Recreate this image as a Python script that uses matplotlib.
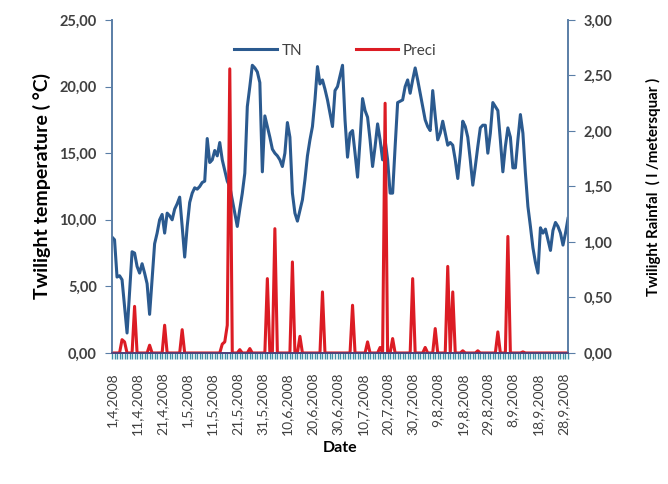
import numpy as np
import pandas as pd
import matplotlib
matplotlib.use("Agg")
from matplotlib import pyplot as plt
from matplotlib.ticker import FuncFormatter, MultipleLocator
#
plt.rcParams['font.family'] = ['Lato', 'DejaVu Sans']
#
dates = pd.date_range('2008-04-01', '2008-09-30', freq='D')
#
# daily twilight temperature (C), 1 Apr - 30 Sep 2008
tn = [8.7, 8.5, 5.7, 5.8, 5.5, 3.5, 1.5, 4.5, 7.6, 7.5,
      6.5, 6.0, 6.7, 6.0, 5.2, 2.9, 5.5, 8.2, 9.0, 10.0,
      10.4, 9.0, 10.5, 10.3, 10.0, 10.8, 11.2, 11.7, 9.5, 7.2,
      9.5, 11.3, 12.0, 12.4, 12.3, 12.5, 12.8, 12.9, 16.1, 14.3,
      14.5, 15.2, 14.8, 15.8, 14.5, 13.7, 12.9, 12.5, 11.5, 10.5,
      9.5, 10.8, 12.0, 13.5, 18.5, 20.0, 21.6, 21.4, 21.1, 20.3,
      13.6, 17.8, 17.0, 16.2, 15.3, 15.0, 14.8, 14.5, 14.0, 15.0,
      17.3, 16.2, 12.0, 10.5, 9.9, 10.7, 11.5, 13.0, 14.8, 16.0,
      17.0, 19.0, 21.5, 20.2, 20.5, 19.8, 19.0, 18.0, 17.0, 19.7,
      20.0, 20.8, 21.6, 17.5, 14.7, 16.5, 16.7, 15.0, 13.2, 16.0,
      19.1, 18.2, 17.7, 16.0, 14.0, 15.5, 17.2, 16.0, 14.5, 16.0,
      14.5, 12.0, 12.0, 15.5, 18.8, 18.9, 19.0, 20.0, 20.5, 19.5,
      20.5, 21.4, 20.5, 19.5, 18.5, 17.5, 17.0, 16.7, 19.7, 17.8,
      16.0, 16.5, 17.4, 16.5, 15.6, 15.8, 15.6, 14.5, 13.1, 15.0,
      17.4, 17.0, 16.2, 14.5, 12.6, 14.0, 15.5, 16.9, 17.1, 17.1,
      15.0, 16.5, 18.8, 18.5, 18.2, 16.0, 13.6, 15.5, 16.9, 16.2,
      13.9, 13.9, 16.0, 17.9, 16.5, 13.5, 11.0, 9.5, 7.9, 6.8,
      6.0, 9.4, 9.0, 9.3, 8.5, 7.7, 9.2, 9.8, 9.5, 9.0,
      8.1, 9.0, 10.1]
#
# rainy days: day index from 1 Apr -> rainfall
rain_day = [4, 5, 9, 15, 21, 28, 44, 45, 46, 47, 51, 55, 62, 65, 72, 75,
            84, 96, 102, 107, 109, 112, 120, 125, 129, 134, 136, 140,
            146, 154, 158, 164]
rain_val = [0.12, 0.10, 0.42, 0.07, 0.25, 0.21, 0.08, 0.10, 0.25, 2.56,
            0.03, 0.04, 0.67, 1.12, 0.82, 0.15, 0.55, 0.43, 0.10, 0.05,
            2.25, 0.13, 0.67, 0.05, 0.22, 0.78, 0.55, 0.02, 0.02, 0.19,
            1.05, 0.01]
#
n = len(dates)
preci = np.zeros(n)
preci[rain_day] = rain_val
x = np.arange(n)
#
blue = '#2b5a8f'
red = '#dc1c24'
axcol = '#5a7ea6'
comma = FuncFormatter(lambda v, pos: ('%.2f' % v).replace('.', ','))
#
fig = plt.figure(figsize=(6.68, 4.84), dpi=100)
ax = fig.add_axes([0.1677, 0.2707, 0.6826, 0.688])
ax2 = ax.twinx()
#
l1, = ax.plot(x, tn, color=blue, lw=2.2, label='TN')
l2, = ax2.plot(x, preci, color=red, lw=2.2, label='Preci')
#
ax.set_xlim(0, n - 1)
ax.set_ylim(0, 25)
ax2.set_ylim(0, 3)
ax.yaxis.set_major_locator(MultipleLocator(5))
ax2.yaxis.set_major_locator(MultipleLocator(0.5))
ax.yaxis.set_major_formatter(comma)
ax2.yaxis.set_major_formatter(comma)
#
ticks = x[::10]
ax.set_xticks(ticks)
ax.set_xticklabels(['%d,%d,%d' % (d.day, d.month, d.year) for d in dates[::10]],
                   rotation=90, fontsize=10, color='#404040')
ax.set_xticks(x, minor=True)
ax.tick_params(axis='x', which='both', length=4, color='#3f8fa8', width=1, pad=10)
#
for a in (ax, ax2):
    a.spines['top'].set_visible(False)
    a.spines['left'].set_color(axcol)
    a.spines['right'].set_color(axcol)
    a.spines['bottom'].set_color('#4a3f7a')
    a.spines['left'].set_linewidth(1.2)
    a.spines['right'].set_linewidth(1.2)
    a.spines['bottom'].set_linewidth(1.2)
ax.tick_params(axis='y', length=5, color=axcol, labelsize=10.5,
               labelcolor='#404040', pad=6)
ax2.tick_params(axis='y', length=5, color=axcol, labelsize=10.5,
                labelcolor='#404040', pad=6)
for t in ax.get_yticklabels() + ax2.get_yticklabels():
    t.set_fontweight('bold')
#
ax.set_ylabel('Twilight temperature ( °C)', fontsize=14, fontweight='bold', labelpad=6)
ax2.set_ylabel('Twilight Rainfal  ( l /metersquar )', fontsize=10.8,
               fontweight='bold', labelpad=24)
ax.set_xlabel('Date', fontsize=11.5, fontweight='bold', labelpad=4)
#
leg = ax.legend([l1, l2], ['TN', 'Preci'], loc='upper center', ncol=2,
                bbox_to_anchor=(0.49, 0.97), frameon=False, fontsize=11,
                handlelength=2.8, columnspacing=3.5, handletextpad=0.3)
for t in leg.get_texts():
    t.set_color('#404040')
#
fig.savefig('out.png', dpi=100)
